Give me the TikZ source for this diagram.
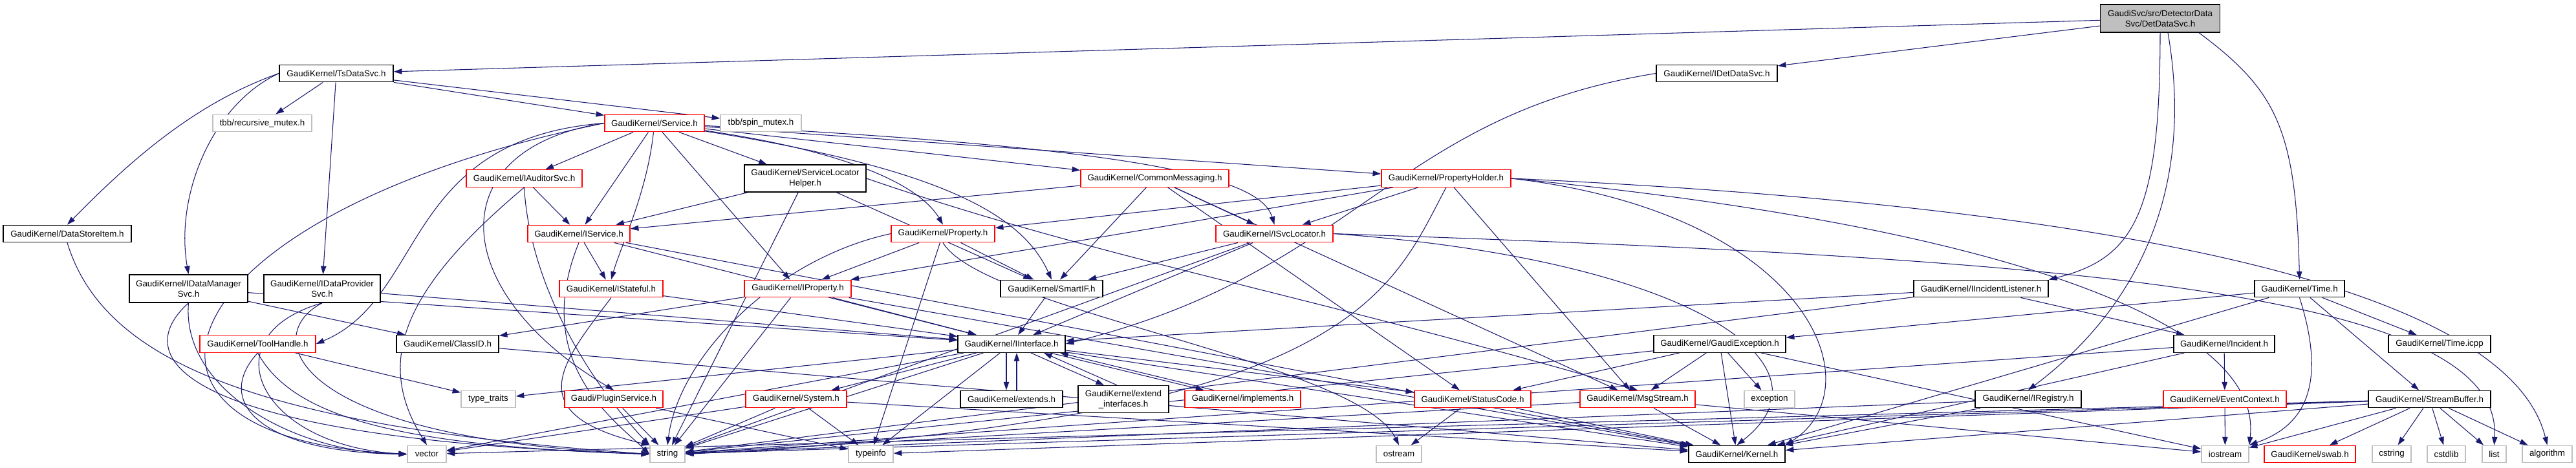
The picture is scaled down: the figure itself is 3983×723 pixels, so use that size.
\documentclass[tikz,border=0pt]{standalone}
\usepackage{fontspec}
\newfontfamily\nf{Liberation Sans}
\usetikzlibrary{arrows.meta}
\definecolor{edgec}{RGB}{25,25,112}
\definecolor{graybd}{RGB}{191,191,191}
\definecolor{fillg}{RGB}{191,191,191}
\pgfdeclarelayer{edges}
\pgfsetlayers{edges,main}
\tikzset{
  nb/.style={draw=black, fill=white, line width=0.4pt, minimum height=0.265cm, inner sep=0pt, align=center, font=\nf\fontsize{3.8}{4.55}\selectfont},
  nr/.style={nb, draw=red},
  ng/.style={nb, draw=graybd},
  e/.style={draw=edgec, line width=0.3pt, -{Triangle[length=3.6pt,width=2.4pt]}},
}
\begin{document}
\begin{tikzpicture}[x=0.01cm,y=0.01cm]
\useasboundingbox (0,0) rectangle (3983,-723);
% row 0
\node[nb, fill=fillg, minimum width=1.85cm, minimum height=0.43cm] (det) at (3340,-28.5) {GaudiSvc/src/DetectorData\\Svc/DetDataSvc.h};
% row 1
\node[nb, minimum width=1.76cm] (ts) at (520,-113.5) {GaudiKernel/TsDataSvc.h};
\node[nb, minimum width=1.87cm] (idet) at (2654.5,-113.5) {GaudiKernel/IDetDataSvc.h};
% row 2
\node[ng, minimum width=1.53cm] (rmx) at (405.5,-190.5) {tbb/recursive\_mutex.h};
\node[nr, minimum width=1.54cm] (svc) at (1012,-190.5) {GaudiKernel/Service.h};
\node[ng, minimum width=1.25cm] (smx) at (1176.5,-190.5) {tbb/spin\_mutex.h};
% row 3
\node[nr, minimum width=1.79cm] (aud) at (810.5,-276) {GaudiKernel/IAuditorSvc.h};
\node[nb, minimum width=1.88cm, minimum height=0.42cm] (slh) at (1245,-276) {GaudiKernel/ServiceLocator\\Helper.h};
\node[nr, minimum width=2.29cm] (cm) at (1785.5,-276) {GaudiKernel/CommonMessaging.h};
\node[nr, minimum width=2.00cm] (ph) at (2236,-276) {GaudiKernel/PropertyHolder.h};
% row 4
\node[nb, minimum width=1.98cm] (dsi) at (104,-361.5) {GaudiKernel/DataStoreItem.h};
\node[nr, minimum width=1.58cm] (isvc) at (895,-361.5) {GaudiKernel/IService.h};
\node[nr, minimum width=1.60cm] (prop) at (1458,-361.5) {GaudiKernel/Property.h};
\node[nr, minimum width=1.81cm] (isl) at (1970.5,-361.5) {GaudiKernel/ISvcLocator.h};
% row 5
\node[nb, minimum width=1.83cm, minimum height=0.43cm] (idm) at (291.5,-446.5) {GaudiKernel/IDataManager\\Svc.h};
\node[nb, minimum width=1.80cm, minimum height=0.43cm] (idp) at (498,-446.5) {GaudiKernel/IDataProvider\\Svc.h};
\node[nr, minimum width=1.60cm] (ist) at (945,-446.5) {GaudiKernel/IStateful.h};
\node[nr, minimum width=1.65cm] (iprop) at (1233.5,-446.5) {GaudiKernel/IProperty.h};
\node[nb, minimum width=1.58cm] (sif) at (1626,-446.5) {GaudiKernel/SmartIF.h};
\node[nb, minimum width=2.08cm] (iil) at (3063,-446.5) {GaudiKernel/IIncidentListener.h};
\node[nb, minimum width=1.39cm] (time) at (3555.5,-446.5) {GaudiKernel/Time.h};
% row 6
\node[nr, minimum width=1.79cm] (th) at (398.5,-532) {GaudiKernel/ToolHandle.h};
\node[nb, minimum width=1.58cm] (cid) at (692,-532) {GaudiKernel/ClassID.h};
\node[nb, minimum width=1.66cm] (iif) at (1564,-532) {GaudiKernel/IInterface.h};
\node[nb, minimum width=2.04cm] (gex) at (2659,-532) {GaudiKernel/GaudiException.h};
\node[nb, minimum width=1.56cm] (inc) at (3439,-532) {GaudiKernel/Incident.h};
\node[nb, minimum width=1.58cm] (ticpp) at (3772,-532) {GaudiKernel/Time.icpp};
% row 7
\node[ng, minimum width=0.84cm] (tt) at (755,-617.5) {type\_traits};
\node[nr, minimum width=1.52cm] (plg) at (949,-617.5) {Gaudi/PluginService.h};
\node[nr, minimum width=1.56cm] (sys) at (1231,-617.5) {GaudiKernel/System.h};
\node[nb, minimum width=1.58cm] (ext) at (1564,-617.5) {GaudiKernel/extends.h};
\node[nb, minimum width=1.40cm, minimum height=0.42cm] (exti) at (1737,-617.5) {GaudiKernel/extend\\\_interfaces.h};
\node[nr, minimum width=1.79cm] (impl) at (1921.5,-617.5) {GaudiKernel/implements.h};
\node[nr, minimum width=1.80cm] (sc) at (2277,-617.5) {GaudiKernel/StatusCode.h};
\node[nr, minimum width=1.78cm] (ms) at (2532,-617.5) {GaudiKernel/MsgStream.h};
\node[ng, minimum width=0.78cm] (exc) at (2736,-617.5) {exception};
\node[nb, minimum width=1.64cm] (ireg) at (3136,-617.5) {GaudiKernel/IRegistry.h};
\node[nr, minimum width=1.90cm] (ec) at (3440,-617.5) {GaudiKernel/EventContext.h};
\node[nb, minimum width=1.89cm] (sb) at (3756.5,-617.5) {GaudiKernel/StreamBuffer.h};
% row 8
\node[ng, minimum width=0.60cm] (vec) at (660,-702.5) {vector};
\node[ng, minimum width=0.54cm] (str) at (1032,-702.5) {string};
\node[ng, minimum width=0.69cm] (ti) at (1346.5,-702.5) {typeinfo};
\node[ng, minimum width=0.70cm] (ost) at (2163,-702.5) {ostream};
\node[nb, minimum width=1.49cm] (ker) at (2685.5,-702.5) {GaudiKernel/Kernel.h};
\node[ng, minimum width=0.73cm] (ios) at (3440.5,-702.5) {iostream};
\node[nr, minimum width=1.41cm] (swab) at (3571.5,-702.5) {GaudiKernel/swab.h};
\node[ng, minimum width=0.60cm] (cstr) at (3698,-702.5) {cstring};
\node[ng, minimum width=0.59cm] (cstd) at (3782.5,-702.5) {cstdlib};
\node[ng, minimum width=0.37cm] (lst) at (3856.5,-702.5) {list};
\node[ng, minimum width=0.77cm] (alg) at (3938.5,-702.5) {algorithm};

\begin{pgfonlayer}{edges}
% DetDataSvc
\draw[e] (det) -- (ts);
\draw[e] (det) -- (idet);
\draw[e] (det.south) .. controls (3340,-330) and (3300,-400) .. (iil.north east);
\draw[e] ([xshift=0.12cm]det.south) .. controls (3395,-300) and (3300,-480) .. (ireg.north);
\draw[e] ([xshift=0.6cm]det.south) .. controls (3520,-140) and (3550,-200) .. (time.north);
% TsDataSvc
\draw[e] (ts.west) .. controls (300,-160) and (200,-250) .. (dsi.north);
\draw[e] (ts.west) .. controls (330,-160) and (270,-300) .. (idm.north);
\draw[e] (ts) -- (idp);
\draw[e] (ts) -- (rmx);
\draw[e] (ts) -- (svc);
\draw[e] (ts) -- (smx);
% IDetDataSvc
\draw[e] (idet.west) .. controls (2150,-180) and (2100,-420) .. (iif.east);
% DataStoreItem
\draw[e] (dsi.south) .. controls (160,-560) and (400,-660) .. (str.west);
% Service
\draw[e] (svc) -- (aud);
\draw[e] (svc) -- (isvc);
\draw[e] (svc) -- (slh);
\draw[e] (svc) -- (iprop);
\draw[e] (svc) -- (ph);
\draw[e] (svc) .. controls (1350,-240) and (1430,-300) .. (prop.north);
\draw[e] (svc) -- (cm);
\draw[e] (svc) .. controls (1450,-260) and (1580,-330) .. (sif.north);
\draw[e] (svc) .. controls (1800,-230) and (1950,-280) .. (isl.north);
\draw[e] (svc) .. controls (1000,-300) and (960,-380) .. (ist.north);
\draw[e] (svc.west) .. controls (620,-215) and (660,-460) .. (th.east);
\draw[e] (svc.west) .. controls (680,-230) and (690,-450) .. (plg.north);
\draw[e] (svc.west) .. controls (250,-330) and (120,-680) .. (vec.west);
% IAuditorSvc
\draw[e] (aud) -- (isvc);
\draw[e] (aud.south) .. controls (620,-450) and (580,-560) .. (vec.north);
\draw[e] (aud.south) .. controls (820,-450) and (920,-600) .. (str.north west);
% IService
\draw[e] (isvc) -- (ist);
\draw[e] (isvc) -- (iif);
\draw[e] (isvc.south) .. controls (820,-560) and (950,-650) .. (str.west);
\draw[e] (isvc) -- (ker);
% ServiceLocatorHelper
\draw[e] (slh) -- (isvc);
\draw[e] (slh) -- (sif);
\draw[e] (slh.east) .. controls (1700,-400) and (2000,-450) .. (ms.north);
\draw[e] (slh) -- (str);
% CommonMessaging
\draw[e] (cm) -- (isvc);
\draw[e] (cm) -- (isl);
\draw[e] (cm) -- (sif);
\draw[e] (cm) -- (ms);
\draw[e] (cm) -- (sc);
% PropertyHolder
\draw[e] (ph) -- (isl);
\draw[e] (ph) -- (prop);
\draw[e] (ph) -- (iprop);
\draw[e] (ph.south) .. controls (2150,-450) and (2100,-650) .. (str.east);
\draw[e] (ph) -- (ms);
\draw[e] (ph.east) .. controls (3300,-320) and (3880,-450) .. (alg.north);
\draw[e] (ph.east) .. controls (3100,-350) and (3500,-500) .. (ios.north east);
\draw[e] (ph.east) .. controls (2800,-330) and (2900,-600) .. (ker.north east);
% Property
\draw[e] (prop) -- (iprop);
\draw[e] (prop) -- (sif);
\draw[e] (prop) -- (ti);
\draw[e] (prop.west) .. controls (1200,-400) and (1050,-550) .. (str.north);
\draw[e] (prop.south) .. controls (1520,-480) and (2100,-560) .. (ost.north);
% ISvcLocator
\draw[e] (isl) -- (iif);
\draw[e] (isl) -- (sif);
\draw[e] (isl.east) .. controls (3200,-400) and (3870,-450) .. (lst.north);
\draw[e] (isl) -- (str);
\draw[e] (isl.east) .. controls (2600,-400) and (2850,-560) .. (ker.north);
% IDataManagerSvc
\draw[e] (idm) -- (iif);
\draw[e] (idm) -- (cid);
\draw[e] (idm.south) .. controls (190,-560) and (300,-680) .. (str.west);
\draw[e] (idm.south) .. controls (280,-600) and (450,-700) .. (vec.west);
% IDataProviderSvc
\draw[e] (idp) -- (iif);
\draw[e] (idp.south) .. controls (400,-520) and (450,-680) .. (str.west);
\draw[e] (idp.south) .. controls (320,-520) and (400,-690) .. (vec.west);
% ToolHandle
\draw[e] (th) -- (tt);
\draw[e] (th.south) .. controls (330,-620) and (400,-700) .. (vec.west);
\draw[e] (th.south) .. controls (450,-640) and (600,-690) .. (str.west);
% IStateful
\draw[e] (ist) -- (iif);
\draw[e] (ist.south) .. controls (870,-560) and (800,-640) .. (str.north west);
% IProperty
\draw[e] (iprop) -- (iif);
\draw[e] (iprop) -- (str);
\draw[e] (iprop) -- (ker);
\draw[e] (iprop) -- (cid);
% SmartIF
\draw[e] (sif) -- (iif);
% ClassID
\draw[e] (cid) -- (ker);
% IInterface
\draw[e] (iif) -- (sys);
\draw[e] ([xshift=-0.08cm]iif.south) -- ([xshift=-0.08cm]ext.north);
\draw[e] ([xshift=0.08cm]ext.north) -- ([xshift=0.08cm]iif.south);
\draw[e] ([xshift=0.3cm]iif.south) -- ([xshift=-0.3cm]exti.north);
\draw[e] ([xshift=-0.1cm]exti.north) -- ([xshift=0.5cm]iif.south);
\draw[e] ([xshift=0.6cm]iif.south) -- ([xshift=-0.6cm]impl.north);
\draw[e] ([xshift=-0.45cm]impl.north) -- ([xshift=0.75cm]iif.south);
\draw[e] (iif) -- (ti);
\draw[e] (iif) -- (sc);
\draw[e] (iif) -- (ker);
\draw[e] (iif) -- (str);
\draw[e] (iif) -- (vec);
\draw[e] (iif) -- (tt);
% System
\draw[e] (sys) -- (str);
\draw[e] (sys) -- (ti);
\draw[e] (sys) -- (vec);
\draw[e] (sys) -- (ker);
% StatusCode
\draw[e] (sc) -- (ost);
\draw[e] (sc) -- (ker);
% MsgStream
\draw[e] (ms) -- (ker);
\draw[e] (ms) -- (str);
\draw[e] (ms) -- (ios);
% GaudiException
\draw[e] (gex) -- (sc);
\draw[e] (gex) -- (ms);
\draw[e] (gex) -- (exc);
\draw[e] (gex) -- (ker);
\draw[e] (gex) -- (ios);
\draw[e] (gex) -- (str);
% IIncidentListener
\draw[e] (iil) -- (iif);
\draw[e] (iil) -- (inc);
\draw[e] (iil) -- (str);
% Incident
\draw[e] (inc) -- (ec);
\draw[e] (inc) -- (ker);
\draw[e] (inc) -- (str);
% EventContext
\draw[e] (ec) -- (ios);
% Time
\draw[e] (time) -- (gex);
\draw[e] (time) -- (ticpp);
\draw[e] (time) -- (sb);
\draw[e] (time.south) .. controls (3600,-600) and (3560,-660) .. (ios.north east);
\draw[e] (time) -- (ker);
% IRegistry
\draw[e] (ireg) -- (str);
\draw[e] (ireg) -- (ker);
% StreamBuffer
\draw[e] (sb) -- (swab);
\draw[e] (sb) -- (cstr);
\draw[e] (sb) -- (cstd);
\draw[e] (sb) -- (lst);
\draw[e] (sb) -- (alg);
\draw[e] (sb) -- (ios);
\draw[e] (sb) -- (str);
\draw[e] (sb) -- (vec);
\draw[e] (sb) -- (ti);
\draw[e] (sb) -- (ker);
% PluginService
\draw[e] (plg) -- (str);
\draw[e] (plg) -- (ti);
\end{pgfonlayer}
\end{tikzpicture}
\end{document}
